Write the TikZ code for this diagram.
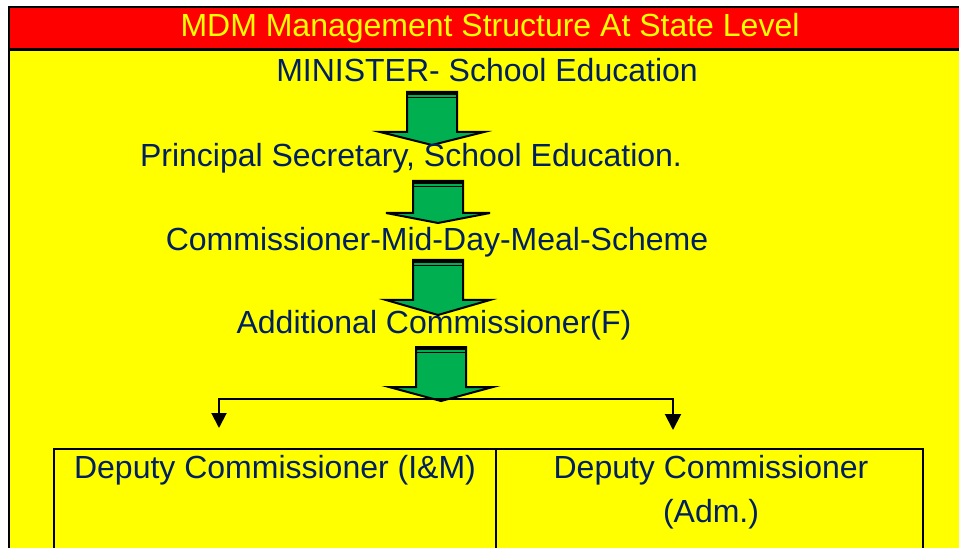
\documentclass[tikz,border=0pt]{standalone}
\usepackage{fontspec}
\setmainfont{Liberation Sans}
\usetikzlibrary{positioning,arrows.meta}
\definecolor{mdmred}{RGB}{255,0,0}
\definecolor{mdmyellow}{RGB}{255,255,0}
\definecolor{mdmgreen}{RGB}{0,176,80}
\definecolor{mdmblue}{RGB}{0,32,96}
% block arrow: centre x, top y, shaft length, head length
\newcommand{\blockarrow}[4]{%
	\begin{scope}[shift={(#1,#2)}]
		\filldraw[fill=mdmgreen,line width=2pt] (-25,0) -- (25,0) -- (25,#3) -- (52,#3) -- (0,#3+#4) -- (-52,#3) -- (-25,#3) -- cycle;
		\draw[line width=3.5pt] (-25,1.5) -- (25,1.5);
		\draw[line width=1.5pt] (-25,5.5) -- (25,5.5);
	\end{scope}}

\begin{document}
\begin{tikzpicture}[x=1pt,y=-1pt]
	\tikzstyle{every node}+=[inner sep=0pt,anchor=base,text=mdmblue,font=\fontsize{32}{38}\selectfont]
	\tikzstyle{frame}=[line width=2.5pt]
	\useasboundingbox (0,0) rectangle (959,548);
	% background and header
	\fill [mdmyellow] (9,49) rectangle (975,560);
	\fill [mdmred] (9,7) rectangle (975,49);
	\draw [frame] (975,7) -- (9,7) -- (9,560);
	\draw [frame] (9,49.5) -- (975,49.5);
	\node [text=mdmyellow] (title) at (490,37) {MDM Management Structure At State Level};
	% block arrows
	\blockarrow{432}{92}{40}{13}
	\blockarrow{438}{181}{32}{10}
	\blockarrow{438}{260}{40}{15}
	\blockarrow{441}{347}{40}{14}
	% levels
	\node (minister) at (487,82) {MINISTER- School Education};
	\node (secretary) at (411,167) {Principal Secretary, School Education.};
	\node (commissioner) at (437,251) {Commissioner-Mid-Day-Meal-Scheme};
	\node (addl) at (434,333) {Additional Commissioner(F)};
	% split
	\coordinate (splitL) at (219,399);
	\coordinate (splitR) at (673,399);
	\coordinate (tipL) at (219,428);
	\coordinate (tipR) at (673,430);
	\draw [line width=2pt,{Triangle[width=15pt,length=15pt]}-{Triangle[width=16pt,length=16pt]}] (tipL) -- (splitL) -- (splitR) -- (tipR);
	% deputy boxes
	\draw [line width=2pt] (54,560) -- (54,449) -- (923,449) -- (923,560);
	\draw [line width=2pt] (496,449) -- (496,560);
	\node (dcim) at (275,478) {Deputy Commissioner (I\&M)};
	\node (dcadm) at (711,478) {Deputy Commissioner};
	\node (adm) at (711,522) {(Adm.)};
\end{tikzpicture}
\end{document}
